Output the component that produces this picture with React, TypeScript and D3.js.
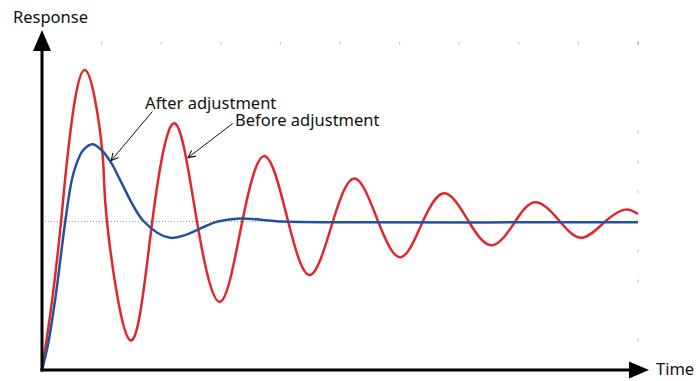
import * as React from 'react'
import { scaleLinear, line, curveNatural, curveCatmullRom } from 'd3'

// time / response samples (steady state = 1)
const redTime = [0, 0.17, 0.32, 0.44, 0.72, 1.01, 1.09, 1.48, 1.85, 2.23, 2.6, 2.99, 3.36, 3.74, 4.13, 4.5, 4.88, 5.25, 5.64, 6.02, 6.39, 6.76, 7.16, 7.55, 7.94, 8.29, 8.69, 9.06, 9.45, 9.78, 10]
const redValue = [0, 0.47, 1.0, 1.48, 2.02, 1.48, 1.0, 0.2, 1.0, 1.66, 1.0, 0.46, 1.0, 1.44, 1.0, 0.64, 1.0, 1.29, 1.0, 0.76, 1.0, 1.19, 1.0, 0.84, 1.0, 1.13, 1.0, 0.89, 1.0, 1.08, 1.05]

const blueTime = [0, 0.1, 0.23, 0.39, 0.5, 0.58, 0.69, 0.85, 1.0, 1.17, 1.31, 1.71, 2.15, 2.95, 3.32, 4.04, 5.2, 10]
const blueValue = [0, 0.17, 0.5, 1.0, 1.28, 1.39, 1.48, 1.52, 1.48, 1.39, 1.28, 1.0, 0.89, 1.0, 1.02, 1.0, 0.995, 0.995]

const topTicks = [1, 2, 3, 4, 5, 6, 7, 8, 9, 10]
const rightTicks = [0.2, 0.6, 0.8, 1.2, 1.4, 1.6, 2.2]

const labels = ['After adjustment', 'Before adjustment']
const labelAt = [[1.73, 1.76], [3.24, 1.64]]
const pointerFrom = [[1.85, 1.74], [3.2, 1.66]]
const pointerTo = [[1.16, 1.41], [2.45, 1.43]]

const width = 696
const height = 381
const font = '"Noto Sans", sans-serif'

export default function App() {
  const x = scaleLinear().domain([0, 10]).range([42, 638])
  const y = scaleLinear().domain([0, 1]).range([370, 221.5])

  const redLine = line<number>()
    .x((d, i) => x(redTime[i]))
    .y((d) => y(d))
    .curve(curveNatural)
  const blueLine = line<number>()
    .x((d, i) => x(blueTime[i]))
    .y((d) => y(d))
    .curve(curveCatmullRom.alpha(0.5))

  const x0 = x(0)
  const y0 = y(0)

  return (
    <svg width={width} height={height} style={{ position: 'absolute', left: 0, top: 0 }}>
      <defs>
        <marker id="pointer" viewBox="0 0 10 10" refX="9" refY="5" markerWidth="9" markerHeight="9" orient="auto" markerUnits="userSpaceOnUse">
          <path d="M1,1 L9,5 L1,9" fill="none" stroke="#111" strokeWidth={1.2} />
        </marker>
      </defs>

      {topTicks.map((t) => (
        <line key={'t' + t} x1={x(t)} x2={x(t)} y1={y(2.2) - 1.5} y2={y(2.2) + 1.5} stroke={t === 10 ? '#777' : '#bbb'} strokeWidth={1} />
      ))}
      {rightTicks.map((r) => (
        <line key={'r' + r} x1={x(10)} x2={x(10)} y1={y(r) - 1.5} y2={y(r) + 1.5} stroke="#bbb" strokeWidth={1} />
      ))}

      <line x1={x0} x2={x(10)} y1={y(1)} y2={y(1)} stroke="#999" strokeWidth={1} strokeDasharray="1,2" />

      <path d={redLine(redValue) ?? ''} fill="none" stroke="#e0272d" strokeWidth={2.5} />
      <path d={blueLine(blueValue) ?? ''} fill="none" stroke="#23529c" strokeWidth={2.5} />

      {/* axes */}
      <line x1={x0} x2={x0} y1={y0 + 1.5} y2={50} stroke="#000" strokeWidth={3} />
      <path d={`M${x0},30 L${x0 + 9},51 L${x0 - 9},51 Z`} fill="#000" />
      <line x1={x0 - 1.5} x2={631} y1={y0} y2={y0} stroke="#000" strokeWidth={3} />
      <path d={`M649,${y0} L629,${y0 - 8.5} L629,${y0 + 8.5} Z`} fill="#000" />

      <text x={13} y={23} fontFamily={font} fontSize={16.5} fill="#111">Response</text>
      <text x={656} y={375} fontFamily={font} fontSize={16.5} fill="#111">Time</text>

      {labels.map((l, i) => (
        <g key={l}>
          <line
            x1={x(pointerFrom[i][0])}
            y1={y(pointerFrom[i][1])}
            x2={x(pointerTo[i][0])}
            y2={y(pointerTo[i][1])}
            stroke="#111"
            strokeWidth={1}
            markerEnd="url(#pointer)"
          />
          <text x={x(labelAt[i][0])} y={y(labelAt[i][1])} fontFamily={font} fontSize={16.5} fill="#111">{l}</text>
        </g>
      ))}
    </svg>
  )
}
